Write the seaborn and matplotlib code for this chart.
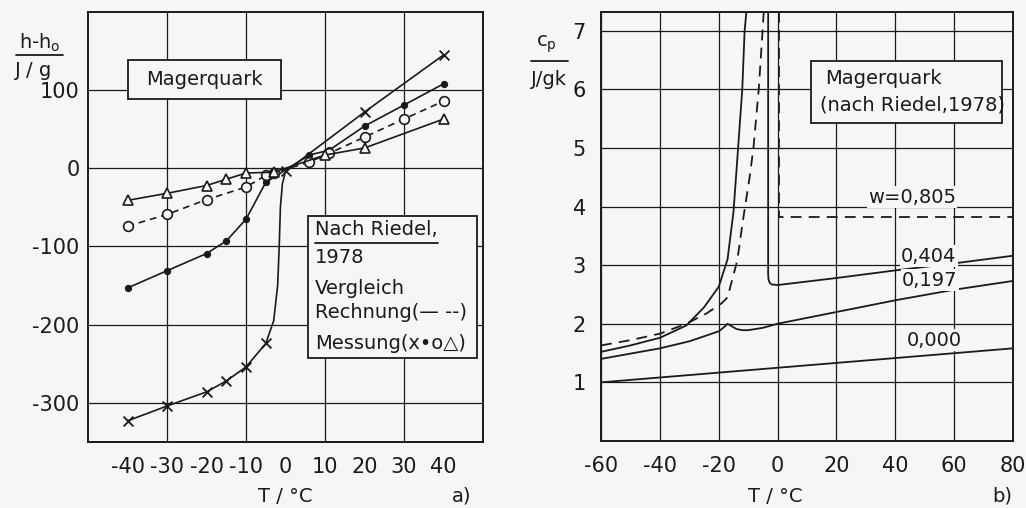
import seaborn as sns
import matplotlib.pyplot as plt
from matplotlib.patches import Rectangle

sns.set_theme(style="white")
plt.rcParams['font.family'] = ['DejaVu Sans']
plt.rcParams['axes.unicode_minus'] = False
plt.rcParams['text.color'] = 'k'

BG = '#f6f6f4'

# a) Enthalpie h - h0 (J/g), Magerquark, Messung
t_cross = [-40, -30, -20, -15, -10, -5, 0, 20, 40]
h_cross = [-323, -304, -286, -272, -254, -224, -4, 72, 145]
t_cross_line = [-40, -30, -20, -15, -10, -5, -3, -2, -1.6, -1.3, -0.8, 0, 20, 40]
h_cross_line = [-323, -304, -286, -272, -254, -224, -195, -150, -100, -50, -20, -4, 72, 145]
t_dot = [-40, -30, -20, -15, -10, -5, 6, 11, 20, 30, 40]
h_dot = [-153, -131, -109, -93, -65, -18, 17, 23, 54, 81, 108]
t_circ = [-40, -30, -20, -10, -5, -3, 6, 11, 20, 30, 40]
h_circ = [-74, -59, -40, -24, -9, -6, 8, 19, 40, 63, 86]
t_tri = [-40, -30, -20, -15, -10, -3, 10, 20, 40]
h_tri = [-41, -32, -22, -14, -6, -5, 17, 26, 63]

# b) spez. Waermekapazitaet cp (J/gK) nach Riedel
t_w000 = [-60, 80]
cp_w000 = [1.0, 1.58]
t_w197 = [-60, -50, -40, -30, -20, -18, -17, -16, -14, -12, -10, -5, 0, 20, 40, 60, 80]
cp_w197 = [1.40, 1.49, 1.58, 1.70, 1.87, 1.95, 2.0, 1.97, 1.91, 1.89, 1.89, 1.93, 2.0, 2.2, 2.4, 2.58, 2.73]
t_w404_a = [-60, -50, -40, -31, -25, -20, -17, -15, -13.7, -12, -11.2, -10.6]
cp_w404_a = [1.52, 1.63, 1.76, 1.97, 2.28, 2.63, 3.1, 3.9, 4.8, 6.0, 7.0, 7.32]
t_w404_b = [-3.2, -3.2, -3.1, -2.7, -2.0, 0, 20, 40, 60, 80]
cp_w404_b = [7.32, 2.85, 2.76, 2.70, 2.67, 2.66, 2.78, 2.91, 3.03, 3.16]
t_w805_a = [-60, -50, -40, -31, -24, -19, -17, -13.7, -11.6, -9.5, -8.2, -6.4, -5.1, -4.7]
cp_w805_a = [1.63, 1.72, 1.83, 2.0, 2.18, 2.35, 2.45, 3.08, 3.82, 4.5, 5.0, 6.0, 7.0, 7.32]
t_w805_b = [0.5, 0.5, 80]
cp_w805_b = [7.32, 3.82, 3.82]

fig = plt.figure(figsize=(10.26, 5.08), dpi=100, facecolor=BG)
ax1 = fig.add_axes([0.0858, 0.130, 0.3850, 0.8465])
ax2 = fig.add_axes([0.5858, 0.132, 0.4015, 0.8445])

for ax in (ax1, ax2):
    ax.set_facecolor(BG)
    for s in ax.spines.values():
        s.set_color('k')
        s.set_linewidth(1.4)

# ---------- a) ----------
line_kw = dict(color='k', lw=1.2, estimator=None, sort=False, ax=ax1)
sns.lineplot(x=t_cross_line, y=h_cross_line, **line_kw)
sns.lineplot(x=t_dot, y=h_dot, marker='o', markersize=4.5, markerfacecolor='k',
             markeredgecolor='k', **line_kw)
sns.lineplot(x=t_circ, y=h_circ, marker='o', markersize=7, markerfacecolor=BG,
             markeredgecolor='k', markeredgewidth=1.2, linestyle=(0, (4, 3)), **line_kw)
sns.lineplot(x=t_tri, y=h_tri, marker='^', markersize=6.5, markerfacecolor=BG,
             markeredgecolor='k', markeredgewidth=1.2, **line_kw)
sns.scatterplot(x=t_cross, y=h_cross, marker='x', s=50, color='k', linewidth=1.3, ax=ax1, zorder=4)

ax1.set_xlim(-50, 50)
ax1.set_ylim(-350, 200)
ax1.set_xticks(range(-40, 41, 10))
ax1.set_yticks([-300, -200, -100, 0, 100])
ax1.set_xticks([-40, -20, 0, 20, 40], minor=True)
ax1.tick_params(which='major', length=0, labelsize=15, colors='k')
ax1.tick_params(axis='x', which='major', pad=11)
ax1.tick_params(axis='y', which='major', pad=6)
ax1.tick_params(axis='x', which='minor', direction='in', length=6, width=1.2, bottom=True)
ax1.yaxis.grid(True, color='k', lw=0.9)
for xv in [-30, -10, 10, 30]:
    ax1.axvline(xv, color='k', lw=0.9, zorder=0.5)
ax1.set_xlabel('')
ax1.set_ylabel('')

ax1.add_patch(Rectangle((0.101, 0.798), 0.387, 0.091, transform=ax1.transAxes,
                        fc=BG, ec='k', lw=1.3, zorder=5))
ax1.text(0.295, 0.843, 'Magerquark', transform=ax1.transAxes, ha='center', va='center',
         fontsize=14, zorder=6)
ax1.add_patch(Rectangle((0.557, 0.195), 0.428, 0.331, transform=ax1.transAxes,
                        fc=BG, ec='k', lw=1.3, zorder=5))
for txt, yy in [('Nach Riedel,', 0.495), ('1978', 0.428), ('Vergleich', 0.358),
                ('Rechnung(— --)', 0.300), ('Messung(x•o△)', 0.230)]:
    ax1.text(0.575, yy, txt, transform=ax1.transAxes, ha='left', va='center',
             fontsize=14, zorder=6)
ax1.plot([0.575, 0.885], [0.462, 0.462], transform=ax1.transAxes, color='k', lw=1.3, zorder=6)

# ---------- b) ----------
kw2 = dict(color='k', lw=1.3, estimator=None, sort=False, ax=ax2)
sns.lineplot(x=t_w000, y=cp_w000, **kw2)
sns.lineplot(x=t_w197, y=cp_w197, **kw2)
sns.lineplot(x=t_w404_a, y=cp_w404_a, **kw2)
sns.lineplot(x=t_w404_b, y=cp_w404_b, **kw2)
sns.lineplot(x=t_w805_a, y=cp_w805_a, linestyle=(0, (6, 4)), **kw2)
sns.lineplot(x=t_w805_b, y=cp_w805_b, linestyle=(0, (6, 4)), **kw2)

ax2.set_xlim(-60, 80)
ax2.set_ylim(0, 7.32)
ax2.set_xticks(range(-60, 81, 20))
ax2.set_yticks(range(1, 8))
ax2.tick_params(length=0, labelsize=15, colors='k')
ax2.tick_params(axis='x', pad=11)
ax2.tick_params(axis='y', pad=11)
ax2.grid(True, color='k', lw=0.9)
ax2.set_xlabel('')
ax2.set_ylabel('')

ax2.add_patch(Rectangle((0.510, 0.741), 0.464, 0.1445, transform=ax2.transAxes,
                        fc=BG, ec='k', lw=1.3, zorder=5))
ax2.text(0.544, 0.846, 'Magerquark', transform=ax2.transAxes, ha='left', va='center',
         fontsize=14, zorder=6)
ax2.text(0.532, 0.784, '(nach Riedel,1978)', transform=ax2.transAxes, ha='left', va='center',
         fontsize=14, zorder=6)
for txt, xx, yy in [('w=0,805', 45.7, 4.16), ('0,404', 51.4, 3.15),
                    ('0,197', 51.8, 2.74), ('0,000', 53.2, 1.72)]:
    ax2.text(xx, yy, txt, ha='center', va='center', fontsize=14,
             bbox=dict(fc=BG, ec='none', pad=1), zorder=4)

# Achsbeschriftungen als Bruch
W, H = 1026, 508
def ftxt(px, py, s, **kw):
    fig.text(px / W, 1 - py / H, s, ha='center', va='center', fontsize=14, **kw)

ftxt(40, 43, r'h-h$_\mathrm{o}$')
fig.add_artist(plt.Line2D([16 / W, 63 / W], [1 - 55 / H, 1 - 55 / H], color='k', lw=1.3))
ftxt(34, 71, 'J / g')
ftxt(546, 44, r'c$_\mathrm{p}$')
fig.add_artist(plt.Line2D([531 / W, 568 / W], [1 - 61 / H, 1 - 61 / H], color='k', lw=1.3))
ftxt(549, 80, 'J/gk')
ftxt(285, 496, 'T / °C')
ftxt(775, 496, 'T / °C')
ftxt(462, 496, 'a)')
ftxt(1002, 496, 'b)')

fig.savefig('out.png', dpi=100, facecolor=BG)
